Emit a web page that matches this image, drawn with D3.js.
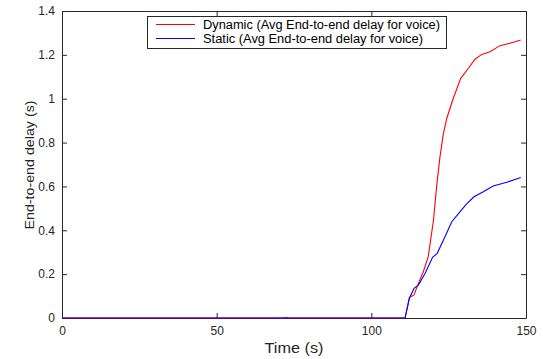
<!DOCTYPE html>
<html>
<head>
<meta charset="utf-8">
<script src="https://cdn.jsdelivr.net/npm/d3@7"></script>
<style>
  html, body { margin: 0; padding: 0; background: #fff; }
  svg { display: block; font-family: "Liberation Sans", Arial, sans-serif; }
</style>
</head>
<body>
<svg id="chart" width="543" height="359"></svg>
<script>
// Simulation time (s) and average end-to-end voice delay (s)
const dynamicTime  = [0, 110.9, 112.3, 113.8, 115.2, 116.8, 118.4, 120.1, 121.1, 122.2, 123.3, 124.4, 126.5, 128.9, 131.4, 133.5, 135.7, 138.4, 141.6, 144.8, 148.3];
const dynamicDelay = [0, 0, 0.093, 0.105, 0.158, 0.211, 0.28, 0.447, 0.599, 0.736, 0.842, 0.911, 1.002, 1.093, 1.139, 1.18, 1.202, 1.214, 1.242, 1.253, 1.268];

const staticTime  = [0, 72, 72.5, 73, 110.9, 112.3, 113.8, 115.2, 117.4, 119.8, 121.3, 123.8, 126, 128.7, 130.8, 133.2, 136.2, 139.4, 143.8, 148.3];
const staticDelay = [0, 0, 0.002, 0, 0, 0.09, 0.135, 0.15, 0.204, 0.277, 0.295, 0.371, 0.439, 0.485, 0.52, 0.553, 0.576, 0.602, 0.619, 0.641];

const xTicks = [0, 50, 100, 150];
const yTicks = [0, 0.2, 0.4, 0.6, 0.8, 1, 1.2, 1.4];

const seriesNames = ["Dynamic (Avg End-to-end delay for voice)", "Static (Avg End-to-end delay for voice)"];
const seriesColors = ["#ff0000", "#0000ff"];

const svg = d3.select("#chart");
const plotLeft = 62, plotRight = 526, plotTop = 11, plotBottom = 318;

const x = d3.scaleLinear().domain([0, 150]).range([plotLeft, plotRight]);
const y = d3.scaleLinear().domain([0, 1.4]).range([plotBottom, plotTop]);

const axisColor = "#262626";
const tickLen = 5;

// Bottom and left axes with inward ticks
const gx = svg.append("g").attr("transform", `translate(0,${plotBottom})`)
  .call(d3.axisBottom(x).tickValues(xTicks).tickSizeInner(-tickLen).tickSizeOuter(0).tickPadding(8).tickFormat(d3.format("d")));
const gy = svg.append("g").attr("transform", `translate(${plotLeft},0)`)
  .call(d3.axisLeft(y).tickValues(yTicks).tickSizeInner(-tickLen).tickSizeOuter(0).tickPadding(7).tickFormat(d => d === 0 ? "0" : d === 1 ? "1" : d3.format(".1f")(d)));
// Top and right mirror axes, ticks only
const gxt = svg.append("g").attr("transform", `translate(0,${plotTop})`)
  .call(d3.axisTop(x).tickValues(xTicks).tickSizeInner(-tickLen).tickSizeOuter(0).tickFormat(""));
const gyr = svg.append("g").attr("transform", `translate(${plotRight},0)`)
  .call(d3.axisRight(y).tickValues(yTicks).tickSizeInner(-tickLen).tickSizeOuter(0).tickFormat(""));

[gx, gy, gxt, gyr].forEach(g => {
  g.selectAll("path.domain").attr("stroke", axisColor).attr("stroke-width", 1);
  g.selectAll(".tick line").attr("stroke", axisColor).attr("stroke-width", 1);
  g.selectAll(".tick text").attr("fill", axisColor).attr("font-size", 12)
    .attr("font-family", "Liberation Sans, Arial, sans-serif");
});

// Data lines
const line = d3.line().x(d => x(d[0])).y(d => y(d[1]));
const dynData = dynamicTime.map((t, i) => [t, dynamicDelay[i]]);
const staData = staticTime.map((t, i) => [t, staticDelay[i]]);

svg.append("path").datum(dynData).attr("d", line)
  .attr("fill", "none").attr("stroke", seriesColors[0]).attr("stroke-width", 1.1);
svg.append("path").datum(staData).attr("d", line)
  .attr("fill", "none").attr("stroke", seriesColors[1]).attr("stroke-width", 1.1);

// Axis labels
svg.append("text").attr("x", 294).attr("y", 353)
  .attr("text-anchor", "middle").attr("font-size", 14).attr("fill", axisColor)
  .attr("textLength", 59).attr("lengthAdjust", "spacingAndGlyphs")
  .text("Time (s)");
svg.append("text").attr("transform", "translate(34,165) rotate(-90)")
  .attr("text-anchor", "middle").attr("font-size", 13.5).attr("fill", axisColor)
  .attr("textLength", 129).attr("lengthAdjust", "spacingAndGlyphs")
  .text("End-to-end delay (s)");

// Legend
const legendWidths = [237, 220];
const legend = svg.append("g");
legend.append("rect").attr("x", 147.5).attr("y", 16.5).attr("width", 299).attr("height", 32)
  .attr("fill", "#fff").attr("stroke", axisColor).attr("stroke-width", 1);
seriesNames.forEach((name, i) => {
  const ly = 24.5 + i * 14;
  legend.append("line").attr("x1", 156).attr("x2", 195).attr("y1", ly).attr("y2", ly)
    .attr("stroke", seriesColors[i]).attr("stroke-width", 1.2);
  legend.append("text").attr("x", 203).attr("y", ly + 4.6)
    .attr("font-size", 12).attr("fill", "#000")
    .attr("textLength", legendWidths[i]).attr("lengthAdjust", "spacingAndGlyphs")
    .text(name);
});
</script>
</body>
</html>
